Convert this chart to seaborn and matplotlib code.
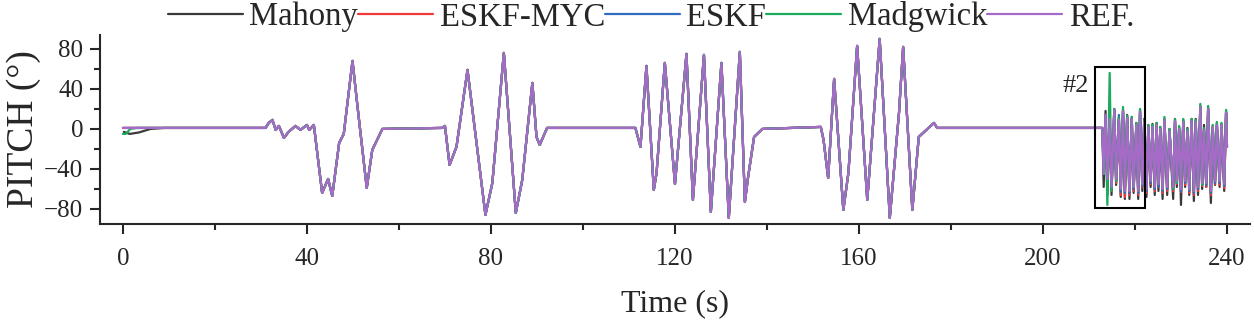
import numpy as np
import pandas as pd
import seaborn as sns
import matplotlib.pyplot as plt
from matplotlib.patches import Rectangle
from matplotlib.ticker import MultipleLocator

# Datos (puntos clave de la curva PITCH)
ref_t = [0, 31, 31.7, 32.5, 33.2, 33.9, 35, 36, 37.5, 38.6, 40, 40.5, 41.5,
         43.3, 44.6, 45.5, 47, 48, 49.9, 51, 53, 54.2, 56.4,
         69.4, 70, 71, 72.5, 74.9, 78.8, 80.3, 82.8, 85.4, 86.8, 89, 89.9, 90.6, 92.2,
         111.4, 111.8, 112.5, 113.8, 115.4, 116, 117.8, 120, 122.5, 123.9, 126.3,
         127.8, 130.1, 131.7, 134.1, 135.2, 135.9, 137.2, 139,
         151.7, 152.3, 153.3, 154.6, 156.6, 157.7, 159.6, 161.8, 164.5, 166.7,
         168.7, 169.6, 171.6, 173, 176.3, 177]
ref_v = [1, 1, 6, 9, -1, 3, -9, -3, 3, -1, 4, -1, 4,
         -64, -50, -67, -14, -5, 68, 22, -59, -21, 0,
         1, 3, -36, -18, 59, -86, -54, 76, -84, -51, 46, -8, -16, 1,
         1, -6, -18, 63, -61, -44, 66, -55, 75, -71, 74,
         -83, 66, -89, 77, -73, -48, -8, 0,
         2, -11, -49, 50, -81, -44, 83, -71, 90, -89,
         16, 82, -81, -8, 6, 1]

# arranque de Mahony y Madgwick
mahony_start_t = [0.2, 1.5, 3.5, 6, 9]
mahony_start_v = [-3, -5, -3.5, 0, 1]
madgwick_start_t = [0, 0.6, 1.6, 3]
madgwick_start_v = [-5, -5, 0, 1]

# zona #2 (oscilaciones rapidas)
burst_t = [212.9, 213.2, 213.6, 214.0, 214.5, 214.9, 215.5, 215.9, 216.5, 216.9,
           217.4, 217.8, 218.3, 218.8, 219.3, 219.7, 220.3, 220.7, 221.1, 221.6,
           222.0, 222.5, 222.9, 223.4, 223.8, 224.3, 224.7, 225.1, 225.5, 226.0,
           226.4, 227.0, 227.5, 228.3, 228.7, 229.1, 229.6, 230.0, 230.5, 230.9,
           231.4, 231.8, 232.3, 232.8, 233.2, 233.7, 234.2, 234.6, 235.0, 235.5,
           235.9, 236.5, 236.9, 237.4, 237.8, 238.4, 238.8, 239.4, 239.8, 240.0]
burst_ref = [1, -45, 14, -50, 10, -58, 19, -50, 9, -60,
             18, -62, 11, -62, 10, -58, 4, -62, 17, -55,
             7, -60, 2, -52, 2, -58, 4, -55, 0, -60,
             9, -58, -2, -58, 8, -52, 0, -60, 7, -52,
             -2, -60, 8, -62, 7, -58, 22, -54, -1, -54,
             20, -62, 2, -52, 4, -52, 4, -55, 16, -18]
burst_mahony = [1, -58, 18, -66, 12, -66, 20, -56, 11, -68,
                19, -70, 14, -70, 12, -64, 6, -70, 19, -62,
                10, -68, 4, -58, 5, -66, 6, -62, 2, -70,
                10, -66, 0, -70, 10, -58, 2, -76, 9, -58,
                1, -66, 10, -72, 10, -66, 23, -60, 4, -58,
                21, -74, 3, -56, 6, -58, 5, -62, 17, -18]
burst_eskf_myc = [1, -30, 14, -54, 10, -62, 19, -54, 9, -66,
                  18, -68, 11, -66, 10, -62, 4, -66, 17, -58,
                  7, -64, 2, -55, 2, -62, 4, -58, 0, -64,
                  9, -62, -2, -62, 8, -55, 0, -63, 7, -56,
                  -2, -64, 8, -66, 7, -62, 22, -57, -1, -58,
                  20, -66, 2, -55, 4, -56, 4, -59, 16, -18]
burst_eskf = [1, -45, 14, -52, 10, -60, 19, -52, 14, -63,
              18, -64, 13, -64, 10, -60, 4, -64, 17, -57,
              7, -62, 2, -54, 2, -60, 4, -58, 0, -62,
              9, -60, -2, -60, 8, -54, 0, -62, 7, -54,
              -2, -62, 8, -64, 7, -60, 22, -56, -1, -56,
              20, -64, 2, -54, 4, -54, 4, -57, 16, -18]
burst_madgwick = [1, -45, 5, -76, 56, -62, 20, -52, 11, -60,
                  22, -62, 13, -62, 12, -58, 6, -62, 20, -55,
                  9, -60, 4, -52, 4, -58, 6, -55, 2, -60,
                  12, -58, 0, -60, 10, -54, 3, -60, 10, -52,
                  0, -60, 10, -62, 9, -58, 25, -56, 1, -54,
                  23, -62, 4, -52, 7, -52, 6, -55, 19, -18]

series = ["Mahony", "ESKF-MYC", "ESKF", "Madgwick", "REF."]
colores = {"Mahony": "#3a3a3a", "ESKF-MYC": "#f03a3a", "ESKF": "#2e6dbd",
           "Madgwick": "#1bab5c", "REF.": "#a66bc6"}

# Armar tabla larga
def armar(nombre, t_ini, v_ini, burst):
    t = list(t_ini) + [x for x in ref_t if x > t_ini[-1]] + burst_t
    v = list(v_ini) + [y for x, y in zip(ref_t, ref_v) if x > t_ini[-1]] + burst
    return pd.DataFrame({"t": t, "pitch": v, "serie": nombre})

df = pd.concat([
    armar("Mahony", mahony_start_t, mahony_start_v, burst_mahony),
    armar("ESKF-MYC", ref_t[:1], ref_v[:1], burst_eskf_myc),
    armar("ESKF", ref_t[:1], ref_v[:1], burst_eskf),
    armar("Madgwick", madgwick_start_t, madgwick_start_v, burst_madgwick),
    armar("REF.", ref_t[:1], ref_v[:1], burst_ref),
], ignore_index=True)

sns.set_style("ticks")
plt.rcParams["font.family"] = ["Liberation Serif", "DejaVu Serif"]

fig = plt.figure(figsize=(12.54, 3.26), dpi=100)
ax = fig.add_axes([0.0797, 0.313, 0.9171, 0.58])

sns.lineplot(data=df, x="t", y="pitch", hue="serie", hue_order=series,
             palette=colores, units="serie", estimator=None, sort=False,
             linewidth=1.6, ax=ax)

ax.set_xlim(-5, 245)
ax.set_ylim(-95, 94)
ax.xaxis.set_major_locator(MultipleLocator(40))
ax.xaxis.set_minor_locator(MultipleLocator(20))
ax.yaxis.set_major_locator(MultipleLocator(40))
ax.yaxis.set_minor_locator(MultipleLocator(20))
ax.tick_params(which="major", direction="out", length=7, width=1.5, labelsize=18)
ax.tick_params(which="minor", direction="out", length=4, width=1.5)
ax.tick_params(axis="x", pad=10)
ax.tick_params(axis="y", pad=5)
for s in ["top", "right"]:
    ax.spines[s].set_visible(False)
for s in ["left", "bottom"]:
    ax.spines[s].set_linewidth(1.5)
ax.set_yticklabels([f"{int(v)}".replace("-", "\u2212") for v in ax.get_yticks()])

ax.set_xlabel("Time (s)", fontsize=23, labelpad=14)
ax.set_ylabel("PITCH (°)", fontsize=27, labelpad=2)

# recuadro #2
ax.add_patch(Rectangle((211.4, -79), 10.7, 141, fill=False, edgecolor="black", linewidth=1.5, zorder=5))
ax.text(207.2, 43, "#2", fontsize=19, ha="center", va="center")

handles, labels = ax.get_legend_handles_labels()
ax.get_legend().remove()
fig.legend(handles, labels, ncol=5, loc="center", bbox_to_anchor=(651 / 1254, 1 - 17 / 326),
           frameon=False, fontsize=23.5, handlelength=2.3, handletextpad=0.2, columnspacing=0.0,
           borderaxespad=0)

fig.savefig("out.png", dpi=100)
